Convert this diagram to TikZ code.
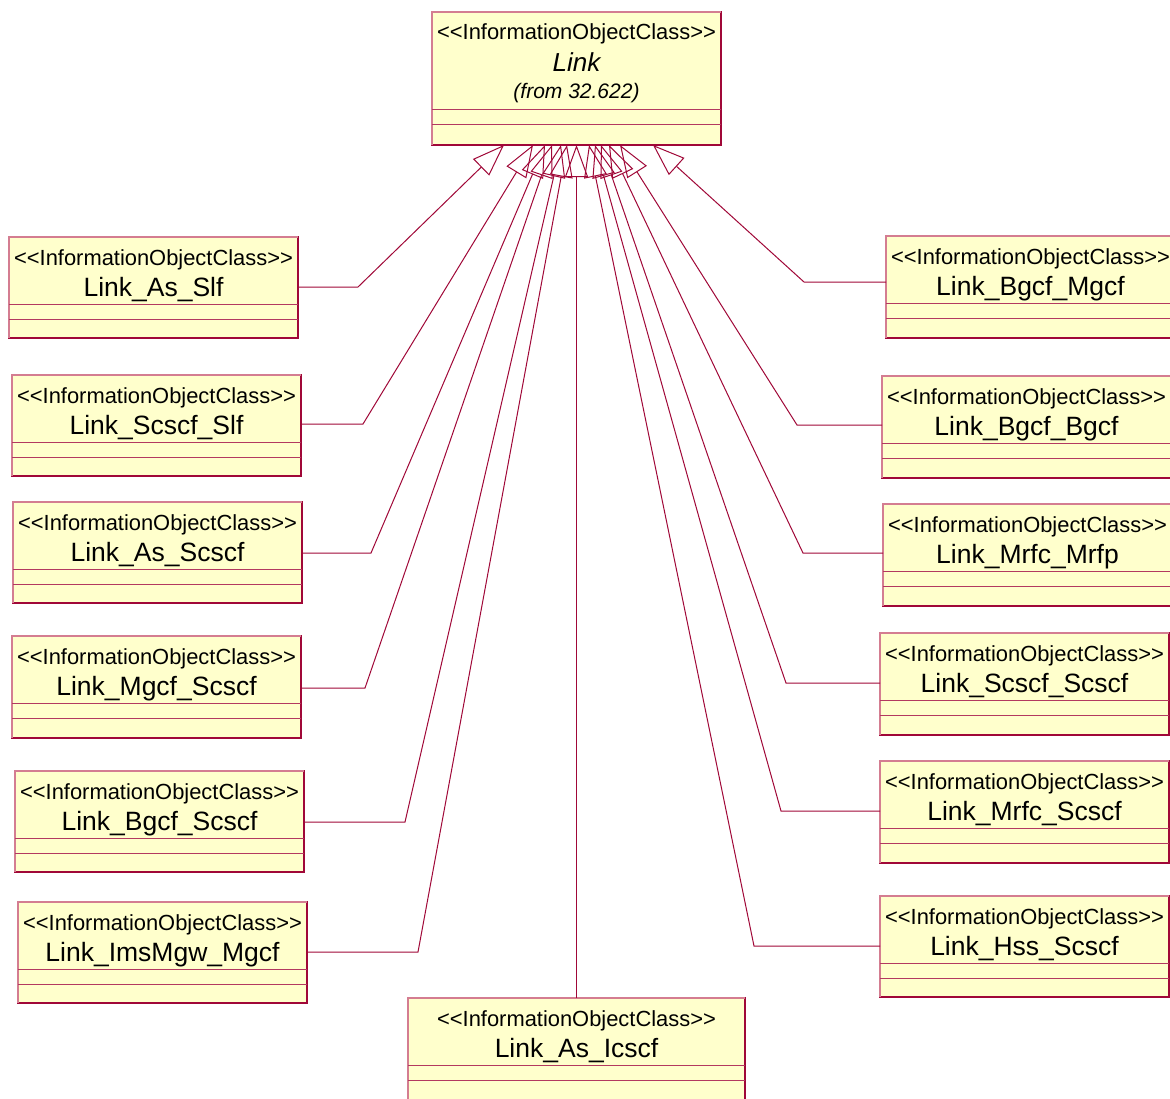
\documentclass[tikz,border=0pt]{standalone}
\usepackage{fontspec}
\newfontfamily\arial{Liberation Sans}
\usetikzlibrary{arrows.meta}
\definecolor{lc}{RGB}{160,8,56}
\definecolor{lcl}{RGB}{212,125,145}
\definecolor{fillc}{RGB}{255,255,204}
\tikzset{
  iocbox/.style={rectangle, fill=fillc, draw=lc, line width=1.4pt, inner sep=0pt, outer sep=0pt},
  sepline/.style={draw=lc!80!white, line width=1pt},
  litedge/.style={draw=lcl, line width=1.4pt},
  stereo/.style={font=\arial\fontsize{21.9}{24}\selectfont, inner sep=0pt},
  cname/.style={font=\arial\fontsize{26.5}{30}\selectfont, inner sep=0pt},
  cnameit/.style={font=\arial\itshape\fontsize{26}{30}\selectfont, inner sep=0pt},
  fromit/.style={font=\arial\itshape\fontsize{21}{24}\selectfont, inner sep=0pt},
  gen/.style={draw=lc, line width=1pt, -{Triangle[open, length=32pt, width=23pt]}},
}
\newcommand{\iocdraw}[6]{%
  \node[iocbox, anchor=north west, minimum width={#4-#2}, minimum height={#5-#3}] (#1) at (#2,#3) {};
  \draw[litedge] (#1.south west) -- (#1.north west) -- (#1.north east);
  \draw[sepline] ([yshift=-67pt]#1.north west) -- ([yshift=-67pt]#1.north east);
  \draw[sepline] ([yshift=-82pt]#1.north west) -- ([yshift=-82pt]#1.north east);
  \node[stereo] (#1-s) at ([yshift=-22.5pt]#1.north) {<<InformationObjectClass>>};
  \node[cname] (#1-n) at ([yshift=-52.5pt]#1.north) {#6};
}
\begin{document}
\begin{tikzpicture}[x=1pt, y=-1pt]
\clip (0,0) rectangle (1170,1098);
\fill[white] (0,0) rectangle (1170,1098);

% top class
\node[iocbox, anchor=north west, minimum width=289, minimum height=133] (link) at (432,12) {};
\draw[litedge] (link.south west) -- (link.north west) -- (link.north east);
\draw[sepline] ([yshift=-97pt]link.north west) -- ([yshift=-97pt]link.north east);
\draw[sepline] ([yshift=-112pt]link.north west) -- ([yshift=-112pt]link.north east);
\node[stereo] (link-s) at ([yshift=-22pt]link.north) {<<InformationObjectClass>>};
\node[cnameit] (link-n) at ([yshift=-50pt]link.north) {Link};
\node[fromit] (link-f) at ([yshift=-81.5pt]link.north) {(from 32.622)};

% left column
\iocdraw{AsSlf}{9}{237}{298}{338}{Link\_As\_Slf}
\iocdraw{ScscfSlf}{12}{375}{301}{476}{Link\_Scscf\_Slf}
\iocdraw{AsScscf}{13}{502}{302}{603}{Link\_As\_Scscf}
\iocdraw{MgcfScscf}{12}{636}{301}{738}{Link\_Mgcf\_Scscf}
\iocdraw{BgcfScscf}{15}{771}{304}{872}{Link\_Bgcf\_Scscf}
\iocdraw{ImsMgwMgcf}{18}{902}{307}{1003}{Link\_ImsMgw\_Mgcf}
% right column
\iocdraw{BgcfMgcf}{886}{236}{1175}{338}{Link\_Bgcf\_Mgcf}
\iocdraw{BgcfBgcf}{882}{376}{1171}{478}{Link\_Bgcf\_Bgcf}
\iocdraw{MrfcMrfp}{883}{504}{1172}{606}{Link\_Mrfc\_Mrfp}
\iocdraw{ScscfScscf}{880}{633}{1169}{735}{Link\_Scscf\_Scscf}
\iocdraw{MrfcScscf}{880}{761}{1169}{863}{Link\_Mrfc\_Scscf}
\iocdraw{HssScscf}{880}{896}{1169}{997}{Link\_Hss\_Scscf}
% bottom
\iocdraw{AsIcscf}{408}{998}{745}{1100}{Link\_As\_Icscf}

% generalisations
\foreach \b/\cy/\ex/\tx in {AsSlf/287/358/504, ScscfSlf/424/363/533, AsScscf/553/371/545,
    MgcfScscf/688/365/552, BgcfScscf/822/405/561, ImsMgwMgcf/952/418/567}{
  \coordinate (e-\b) at (\ex,\cy);
  \coordinate (t-\b) at (\tx,145);
  \draw[gen] (\b.east |- e-\b) -- (e-\b) -- (t-\b);
}
\foreach \b/\cy/\ex/\tx in {BgcfMgcf/282/804/653, BgcfBgcf/425/797/620, MrfcMrfp/553/803/609,
    ScscfScscf/683/786/601, MrfcScscf/811/781/595, HssScscf/946/754/589}{
  \coordinate (e-\b) at (\ex,\cy);
  \coordinate (t-\b) at (\tx,145);
  \draw[gen] (\b.west |- e-\b) -- (e-\b) -- (t-\b);
}
\coordinate (t-AsIcscf) at (AsIcscf.north |- link.south);
\draw[gen] (AsIcscf.north) -- (t-AsIcscf);
\end{tikzpicture}
\end{document}
